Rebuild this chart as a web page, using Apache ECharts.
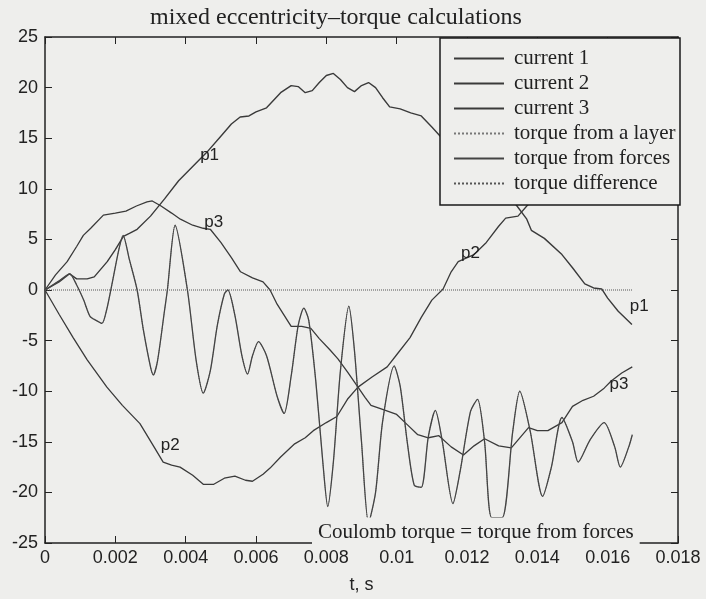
<!DOCTYPE html>
<html>
<head>
<meta charset="utf-8">
<script src="https://cdn.jsdelivr.net/npm/echarts@6.0.0/dist/echarts.min.js"></script>
<style>
html, body { margin: 0; padding: 0; background: #eeeeec; }
#main { width: 706px; height: 599px; }
</style>
</head>
<body>
<div id="main"></div>
<script>
// current 1 (p1)
var c1T = [0, 0.0004, 0.0007, 0.0009, 0.0012, 0.0014, 0.00177, 0.002, 0.00223, 0.0024, 0.00262, 0.003, 0.0034, 0.0038, 0.0042, 0.0046, 0.005, 0.0053, 0.00555, 0.0058, 0.006, 0.0063, 0.0067, 0.007, 0.0072, 0.0074, 0.0076, 0.0078, 0.008, 0.0082, 0.0084, 0.0086, 0.0088, 0.009, 0.0092, 0.0094, 0.0096, 0.0098, 0.0101, 0.0104, 0.0107, 0.011, 0.01124, 0.0118, 0.0124, 0.013, 0.0134, 0.0137, 0.01383, 0.0142, 0.0147, 0.015, 0.01535, 0.0156, 0.01583, 0.016, 0.0163, 0.01669];
var c1V = [0, 0.8, 1.6, 1.1, 1.1, 1.3, 2.8, 4.0, 5.3, 5.6, 6.0, 7.3, 9.0, 10.8, 12.2, 13.6, 15.2, 16.4, 17.1, 17.2, 17.6, 18.0, 19.5, 20.2, 20.1, 19.5, 19.7, 20.5, 21.2, 21.4, 20.8, 20.0, 19.6, 20.2, 20.5, 20.0, 19.0, 18.1, 17.9, 17.5, 17.2, 16.1, 15.2, 13.5, 11.5, 9.6, 8.4, 7.0, 5.9, 5.1, 3.5, 2.2, 0.6, 0.2, 0.1, -0.8, -2.1, -3.4];

// current 2 (p2)
var c2T = [0, 0.0004, 0.0008, 0.0012, 0.00176, 0.0022, 0.0027, 0.0031, 0.00336, 0.0036, 0.00384, 0.0042, 0.0045, 0.0048, 0.0051, 0.0054, 0.0057, 0.0059, 0.0062, 0.0064, 0.0067, 0.0071, 0.0074, 0.00763, 0.008, 0.0083, 0.0086, 0.0089, 0.0093, 0.00973, 0.01, 0.01038, 0.0107, 0.011, 0.01132, 0.01155, 0.01175, 0.0122, 0.01255, 0.0129, 0.0131, 0.01345, 0.0137, 0.0142, 0.015, 0.0158, 0.0167];
var c2V = [0, -2.4, -4.7, -6.9, -9.6, -11.4, -13.2, -15.5, -17.0, -17.3, -17.5, -18.3, -19.2, -19.2, -18.6, -18.4, -18.8, -18.9, -18.2, -17.6, -16.5, -15.2, -14.6, -13.9, -13.1, -12.5, -10.8, -9.6, -8.6, -7.6, -6.4, -4.7, -2.7, -1.0, 0.1, 1.8, 2.8, 3.5, 4.7, 6.3, 7.1, 7.3, 8.3, 10.0, 12.4, 14.3, 15.8];

// current 3 (p3)
var c3T = [0, 0.0003, 0.00063, 0.0009, 0.00109, 0.0013, 0.00166, 0.002, 0.0023, 0.0026, 0.0029, 0.00305, 0.0033, 0.0036, 0.00385, 0.0042, 0.0045, 0.0047, 0.005, 0.0053, 0.00556, 0.0059, 0.0062, 0.0064, 0.0066, 0.007, 0.0073, 0.00756, 0.0078, 0.0081, 0.00833, 0.0086, 0.0089, 0.0091, 0.00927, 0.0096, 0.01, 0.0103, 0.0106, 0.0109, 0.0112, 0.01155, 0.0119, 0.0122, 0.0125, 0.0129, 0.01326, 0.01375, 0.014, 0.0143, 0.0147, 0.015, 0.0153, 0.0156, 0.0159, 0.0161, 0.0164, 0.0167];
var c3V = [0, 1.5, 2.8, 4.3, 5.4, 6.1, 7.4, 7.6, 7.8, 8.3, 8.7, 8.8, 8.3, 7.6, 7.0, 6.4, 6.1, 6.0, 4.7, 3.2, 1.8, 1.2, 0.8, 0.0, -1.4, -3.6, -3.6, -3.8, -4.8, -5.9, -6.8, -8.1, -9.6, -10.6, -11.4, -11.8, -12.3, -13.3, -14.3, -14.6, -14.4, -15.5, -16.3, -15.4, -14.7, -15.4, -15.6, -13.6, -13.9, -13.9, -13.1, -11.5, -10.9, -10.5, -9.7, -9.0, -8.2, -7.6];

// torque from forces (= torque from a layer)
var tqT = [0, 0.0004, 0.0007, 0.0009, 0.0011, 0.00128, 0.00145, 0.00162, 0.00175, 0.0019, 0.0021, 0.00222, 0.0024, 0.00262, 0.0028, 0.003, 0.00308, 0.0032, 0.0034, 0.00348, 0.0037, 0.00405, 0.0043, 0.0045, 0.0047, 0.0049, 0.0051, 0.0052, 0.0054, 0.0056, 0.00576, 0.0059, 0.00607, 0.0063, 0.0066, 0.0068, 0.007, 0.0072, 0.00736, 0.0075, 0.0077, 0.0079, 0.00804, 0.0082, 0.0084, 0.00864, 0.0088, 0.009, 0.0092, 0.0094, 0.0096, 0.00993, 0.0101, 0.0103, 0.0105, 0.0107, 0.0109, 0.0111, 0.0113, 0.0116, 0.0118, 0.0121, 0.0123, 0.0125, 0.0127, 0.013, 0.0133, 0.0135, 0.0138, 0.01415, 0.0144, 0.0147, 0.015, 0.01516, 0.0155, 0.0159, 0.0162, 0.01636, 0.0166, 0.0167];
var tqV = [0, 0.9, 1.6, 0.5, -1.0, -2.6, -3.0, -3.3, -2.0, 0.5, 4.0, 5.4, 3.0, 0.0, -4.0, -7.6, -8.4, -7.0, -2.0, 0.0, 6.4, 0.0, -7.0, -10.2, -8.0, -3.5, -0.4, 0.0, -2.5, -6.5, -8.3, -6.5, -5.1, -6.5, -10.5, -12.2, -8.5, -3.5, -1.8, -3.0, -9.0, -17.0, -21.4, -17.0, -8.0, -1.6, -6.0, -15.0, -23.0, -20.0, -13.0, -7.5, -9.5, -15.0, -19.3, -19.5, -14.5, -11.9, -15.0, -21.1, -18.0, -12.0, -10.8, -15.0, -22.5, -22.5, -14.0, -10.0, -14.0, -20.4, -17.5, -12.6, -15.0, -17.0, -14.8, -13.1, -15.5, -17.5, -15.5, -14.3];

// torque difference
var dfT = [0, 0.0167];
var dfV = [0, 0];

var curveLabels = [
  { name: 'p1', t: 0.00468, v: 13.3, s: 0 },
  { name: 'p3', t: 0.0048, v: 6.7, s: 2 },
  { name: 'p2', t: 0.0121, v: 3.6, s: 1 },
  { name: 'p1', t: 0.0169, v: -1.6, s: 0 },
  { name: 'p3', t: 0.01632, v: -9.3, s: 2 },
  { name: 'p2', t: 0.00356, v: -15.3, s: 1 }
];

var bg = '#eeeeec';
var ink = '#3a3a3a';

function pairs(t, v) {
  return t.map(function (x, i) { return [x, v[i]]; });
}

function marks(idx) {
  return {
    symbol: 'rect',
    symbolSize: 1,
    itemStyle: { color: 'transparent' },
    label: {
      show: true, position: 'inside', formatter: '{b}',
      color: '#222', fontFamily: 'Liberation Sans', fontSize: 17
    },
    data: curveLabels.filter(function (d) { return d.s === idx; }).map(function (d) {
      return { name: d.name, coord: [d.t, d.v] };
    })
  };
}

var myChart = echarts.init(document.getElementById('main'));
var tickFmt = function (v) { return String(parseFloat(v.toFixed(3))); };

var option = {
  backgroundColor: bg,
  animation: false,
  color: [ink, ink, ink, '#777', '#444', '#555'],
  title: {
    text: 'mixed eccentricity\u2013torque calculations',
    left: 145, top: 1,
    textStyle: { fontFamily: 'Liberation Serif', fontSize: 24, fontWeight: 'normal', color: '#222' }
  },
  grid: { left: 45, right: 28, top: 37, bottom: 52 },
  legend: {
    left: 440, top: 38, orient: 'vertical',
    padding: [10, 5, 10, 13],
    itemWidth: 50, itemHeight: 20, itemGap: 4,
    z: 60,
    itemStyle: { opacity: 0 },
    textStyle: { fontFamily: 'Liberation Serif', fontSize: 21, color: '#222', lineHeight: 20, padding: [0, 0, 0, 5] },
    data: ['current 1', 'current 2', 'current 3', 'torque from a layer', 'torque from forces', 'torque difference']
  },
  xAxis: [{
    type: 'value', min: 0, max: 0.018, interval: 0.002,
    name: 't, s', nameLocation: 'middle', nameGap: 33,
    nameTextStyle: { fontFamily: 'Liberation Sans', fontSize: 18, color: '#222' },
    axisLine: { onZero: false, lineStyle: { color: '#222', width: 1.5 } },
    axisTick: { inside: true, length: 7, lineStyle: { color: '#222' } },
    axisLabel: { fontFamily: 'Liberation Sans', fontSize: 18, color: '#222', margin: 6, formatter: tickFmt },
    splitLine: { show: false }
  }, {
    type: 'value', position: 'top', min: 0, max: 0.018, interval: 0.002,
    axisLine: { onZero: false, lineStyle: { color: '#222', width: 1.5 } },
    axisTick: { inside: true, length: 7, lineStyle: { color: '#222' } },
    axisLabel: { show: false },
    splitLine: { show: false }
  }],
  yAxis: [{
    type: 'value', min: -25, max: 25, interval: 5,
    axisLine: { show: true, onZero: false, lineStyle: { color: '#222', width: 1.5 } },
    axisTick: { show: true, inside: true, length: 7, lineStyle: { color: '#222' } },
    axisLabel: { fontFamily: 'Liberation Sans', fontSize: 18, color: '#222', margin: 7 },
    splitLine: { show: false }
  }, {
    type: 'value', position: 'right', min: -25, max: 25, interval: 5,
    axisLine: { show: true, onZero: false, lineStyle: { color: '#222', width: 1.5 } },
    axisTick: { show: true, inside: true, length: 7, lineStyle: { color: '#222' } },
    axisLabel: { show: false },
    splitLine: { show: false }
  }],
  graphic: [{
    type: 'rect', z: 50,
    shape: { x: 440, y: 38, width: 240, height: 167 },
    style: { fill: bg, stroke: '#1a1a1a', lineWidth: 1.5 }
  }, {
    type: 'text', z: 50, x: 312, y: 532,
    style: {
      text: 'Coulomb torque = torque from forces',
      font: '21px "Liberation Serif"', fill: '#222',
      verticalAlign: 'middle', backgroundColor: bg, padding: [4, 6, 4, 6]
    }
  }],
  series: [{
    name: 'current 1', type: 'line', symbol: 'none',
    lineStyle: { color: ink, width: 1.4 },
    data: pairs(c1T, c1V), markPoint: marks(0)
  }, {
    name: 'current 2', type: 'line', symbol: 'none',
    lineStyle: { color: ink, width: 1.3 },
    data: pairs(c2T, c2V), markPoint: marks(1)
  }, {
    name: 'current 3', type: 'line', symbol: 'none',
    lineStyle: { color: ink, width: 1.3 },
    data: pairs(c3T, c3V), markPoint: marks(2)
  }, {
    name: 'torque from a layer', type: 'line', symbol: 'none', smooth: 0.25,
    lineStyle: { color: '#777', width: 1, type: 'dotted' },
    data: pairs(tqT, tqV)
  }, {
    name: 'torque from forces', type: 'line', symbol: 'none', smooth: 0.25,
    lineStyle: { color: '#444', width: 1.3 },
    data: pairs(tqT, tqV)
  }, {
    name: 'torque difference', type: 'line', symbol: 'none',
    lineStyle: { color: '#555', width: 1, type: 'dotted' },
    data: pairs(dfT, dfV)
  }]
};
myChart.setOption(option);
</script>
</body>
</html>
